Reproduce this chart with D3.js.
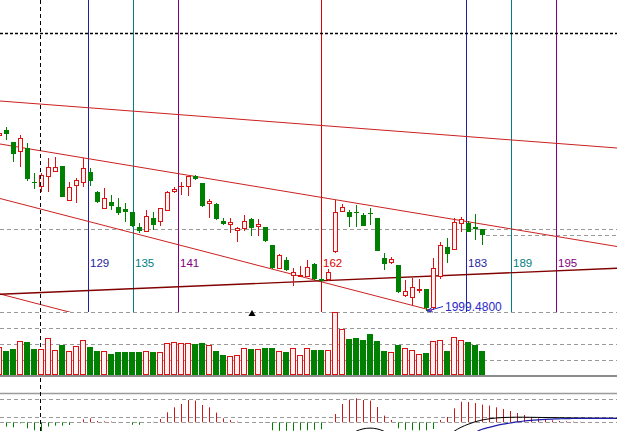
<!DOCTYPE html>
<html><head><meta charset="utf-8">
<script src="https://cdn.jsdelivr.net/npm/d3@7"></script>
<style>body{margin:0;background:#fff;}svg{display:block;}</style>
</head><body>
<svg id="c" width="617" height="431"></svg>
<script>
// ---------- DATA ----------
const firstIndex = -1; // bar index of first candle
const opens  = [2174.5,2180,2168,2157.7,2161.7,2128.3,2123.3,2132.7,2138.3,2144,2109.3,2124,2126.7,2138.3,2118.3,2101,2108.3,2103.3,2101,2098.3,2083.3,2078.3,2092.3,2087.7,2099.3,2117.7,2123.3,2122.7,2134.3,2126.7,2105.7,2106,2089,2085.3,2078.7,2080.7,2090.7,2083,2082.7,2065,2041,2050,2034,2033.3,2032.7,2046,2031,2030,2057.7,2098.3,2097.7,2098.3,2095,2097.3,2091.7,2051.7,2046.7,2045,2014.3,2011.7,2019.3,2020.7,2001.7,2032.7,2063.3,2060,2086,2087.3,2083.3,2080.7];
const highs  = [2177.5,2183.3,2168,2175,2166.7,2136.7,2137,2151.7,2152.7,2144,2128.3,2131.7,2151.7,2141.7,2119,2121.7,2115,2111.7,2106.7,2098.3,2086.7,2100,2098.3,2101.7,2119.3,2123.3,2128.3,2134.3,2135,2126.7,2111,2106.7,2091.7,2091.7,2083.3,2095,2091.7,2090.7,2083,2065,2056,2053.3,2041.7,2044,2050,2046.7,2032,2040.7,2110,2106,2100,2105,2097.3,2101.7,2091.7,2056.7,2053.3,2045,2030,2031.7,2030.7,2021,2051.7,2068.3,2071.7,2091.7,2093.3,2089,2096,2081];
const lows   = [2174,2170,2148.3,2143.3,2129.3,2120.7,2118.3,2117.7,2138.3,2112.7,2109.3,2106.7,2123.3,2124,2107,2101,2100,2095,2088.3,2083.3,2076.7,2078.3,2080,2084.3,2099,2116.7,2115,2114.3,2130,2103.3,2092,2090,2085,2077.3,2068.3,2079.3,2074.3,2074.3,2068.3,2040.7,2041,2039.3,2024.3,2032.7,2032.7,2030,2028,2029.3,2057,2098.3,2082.7,2083.3,2084.3,2085,2059.3,2040,2046,2016.7,2013.3,2005,2016.7,1999.48,2000,2030.7,2047.3,2060,2078.3,2078.3,2070,2065];
const closes = [2177,2175.7,2155.7,2171.7,2131,2126.7,2135,2142.7,2142.7,2113.3,2123.3,2130,2141.7,2129.3,2108.3,2111.7,2104.3,2096.7,2098.3,2084.3,2079,2094,2085,2101.7,2118.3,2121,2124.5,2134.3,2130.7,2104.3,2109.3,2091,2086,2088,2081.7,2089.3,2082.3,2086,2069.3,2042.3,2055,2040,2038.3,2035,2043.3,2030.7,2029,2038.3,2097.7,2102.7,2092.7,2096.7,2084.3,2096,2059.3,2046,2050.7,2018.3,2019,2023.5,2020.7,2001.7,2041.7,2065,2056,2087.7,2091,2078.3,2080.7,2075];
const volumes = [28.7,25.3,27,35,34,27.3,27,38,26,31.3,25.3,30,35.7,29,25.3,25,22.3,24,24,24,24,25,24,24,32.7,33.7,33,32.7,31.7,33,31.3,25.3,21,20,21,28,27,27,28.3,28.3,25,24.3,28,21,28,26.3,26.3,26,63.7,47,37.3,38,36.3,42,35,25,23.7,31.3,28,26,21.7,23,35,36,25,39,36,34,31.3,25];
const macdHist = [-3,-4.3,-5,-1,-6,-8,-8.7,-4.3,-3.3,-3.3,-2.7,0,3,4,1.3,1,0.7,0.3,0,-2.5,-2.5,0,0.5,3.3,10,15,18.3,22.3,21.7,17.3,15,9.7,4,2.3,0.7,0,0,0,-0.5,-8,-8.5,-8.5,-8.5,-8,-8,-7.5,-7,0.5,8.3,18.3,22.7,24,22.3,21.7,15.3,6.7,2.3,-6,-7.5,-8,-8,-8,-6.7,2.3,5.3,14,20.5,20.3,19.2,17.7,16.7,15,13.3,11.3,9.3,7.3,5.3,4,2.7,2,1.3,1,0.7,0.5];
const difStart = 49;
const difValues = [-14,-9,-6.6,-5.8,-6.6,-9,-14,null,null,null,null,null,null,null,-14,-9,-5,-2,0.5,2.3,3.5,4.3,4.8,5,5.1,5.1,5,4.9,4.8,4.7,4.6,4.5,4.4,4.3,4.2,4.2,4.1,4.1,4.0,4.0];
const deaStart = 66;
const deaValues = [-13,-10,-7,-5,-3.3,-1.8,-0.7,0.4,1.3,2,2.5,2.9,3.2,3.5,3.7,3.8,3.9,4.0,4.0,4.0,4.0,4.0,4.0];
const markLabels = ["129","135","141","162","183","189","195"];
const markIndex  = [11.71,18.14,24.57,45,65.71,72.14,78.57];
const trendStart = [[-0.857,2209],[-0.857,2166],[-0.857,2111.5],[-0.857,2016],[-0.857,2015.7]];
const trendEnd   = [[87.29,2162],[87.29,2063.5],[60.86,1999.5],[12,1992.6],[87.29,2041.7]];
const priceGrid = [2080.7];
const volumeGrid = [16,32,48,64];
const macdGrid = [0,5.6,23];
const crossIndex = 4.86, crossPrice = 2277;
const lowLabel = "1999.4800";
const arrowIndex = 35;

// ---------- STYLE ----------
const RED = "#dd1111", GREEN = "#008000", HOLLOW = "#fff2f2";
const markColor = {"129":"#1f1f9f","135":"#008080","141":"#800080","162":"#e00000","183":"#1f1f9f","189":"#008080","195":"#800080"};
const trendColor = ["#cc2020","#cc2020","#cc2020","#cc2020","#800000"];

// ---------- SCALES ----------
const W = 617, H = 431;
const x  = d3.scaleLinear().domain([0, 87]).range([6, 615]);
const yP = d3.scaleLinear().domain([1998, 2310]).range([312, 0]);
const yV = d3.scaleLinear().domain([0, 64]).range([376, 312]);
const yM = d3.scaleLinear().domain([0, 23]).range([422.3, 399.3]);

const svg = d3.select("#c");
const defs = svg.append("defs");
defs.append("clipPath").attr("id","clipP").append("rect").attr("x",0).attr("y",0).attr("width",W).attr("height",312);
defs.append("clipPath").attr("id","clipM").append("rect").attr("x",0).attr("y",393).attr("width",W).attr("height",38);

const bars = opens.map((o,i)=>({k:firstIndex+i,o:o,h:highs[i],l:lows[i],c:closes[i],v:volumes[i],up:closes[i]>=o}));
const cxOf = k => Math.round(x(k));

// ---------- GRID ----------
const grid = svg.append("g").attr("stroke","#9a9a9a").attr("stroke-dasharray","4,3").attr("stroke-width",1);
grid.selectAll(".pg").data(priceGrid).join("line").attr("x1",0).attr("x2",W)
  .attr("y1",d=>Math.round(yP(d))+0.5).attr("y2",d=>Math.round(yP(d))+0.5);
grid.selectAll(".vg").data(volumeGrid).join("line").attr("class","vg").attr("x1",0).attr("x2",W)
  .attr("y1",d=>Math.round(yV(d))+0.5).attr("y2",d=>Math.round(yV(d))+0.5);
grid.selectAll(".mg").data(macdGrid).join("line").attr("class","mg").attr("x1",0).attr("x2",W)
  .attr("y1",d=>Math.round(yM(d))+0.5).attr("y2",d=>Math.round(yM(d))+0.5);
// last price line
const last = bars[bars.length-1];
svg.append("line").attr("x1",cxOf(last.k)+4).attr("x2",W)
  .attr("y1",Math.round(yP(last.c))+0.5).attr("y2",Math.round(yP(last.c))+0.5)
  .attr("stroke","#9a9a9a").attr("stroke-dasharray","4,3");

// panel separators
svg.append("line").attr("x1",0).attr("x2",W).attr("y1",yV(0)).attr("y2",yV(0)).attr("stroke","#8c8c8c").attr("stroke-width",2);
svg.append("line").attr("x1",0).attr("x2",W).attr("y1",393.5).attr("y2",393.5).attr("stroke","#9a9a9a").attr("stroke-width",1.5);

// ---------- PRICE PANEL ----------
const pg = svg.append("g").attr("clip-path","url(#clipP)");
// vertical time lines
pg.selectAll(".vl").data(markIndex).join("line").attr("class","vl")
  .attr("x1",d=>Math.round(x(d))+0.5).attr("x2",d=>Math.round(x(d))+0.5)
  .attr("y1",0).attr("y2",312)
  .attr("stroke",(d,i)=>markColor[markLabels[i]]).attr("stroke-width",1);
// trend lines
pg.selectAll(".tl").data(trendStart).join("line").attr("class","tl")
  .attr("x1",d=>x(d[0])).attr("y1",d=>yP(d[1]))
  .attr("x2",(d,i)=>x(trendEnd[i][0])).attr("y2",(d,i)=>yP(trendEnd[i][1]))
  .attr("stroke",(d,i)=>trendColor[i]).attr("stroke-width",(d,i)=>i===4?1.4:1);

// candles
const cg = pg.append("g");
bars.forEach(d=>{
  const cx = cxOf(d.k);
  const yt = Math.round(yP(Math.max(d.o,d.c))), yb = Math.round(yP(Math.min(d.o,d.c)));
  const yh = Math.round(yP(d.h)), yl = Math.round(yP(d.l));
  if (d.up) {
    if (yh < yt) cg.append("line").attr("x1",cx+0.5).attr("x2",cx+0.5).attr("y1",yh).attr("y2",yt).attr("stroke",RED);
    if (yl > yb) cg.append("line").attr("x1",cx+0.5).attr("x2",cx+0.5).attr("y1",yb).attr("y2",yl).attr("stroke",RED);
    if (yb - yt <= 1) {
      cg.append("rect").attr("x",cx-2).attr("y",yt).attr("width",5).attr("height",Math.max(1,yb-yt)+0).attr("fill",RED);
    } else {
      cg.append("rect").attr("x",cx-1.5).attr("y",yt+0.5).attr("width",4).attr("height",yb-yt-1)
        .attr("fill",HOLLOW).attr("stroke",RED).attr("stroke-width",1);
    }
  } else {
    cg.append("line").attr("x1",cx+0.5).attr("x2",cx+0.5).attr("y1",yh).attr("y2",Math.max(yl,yh+1)).attr("stroke",GREEN);
    cg.append("rect").attr("x",cx-2).attr("y",yt).attr("width",5).attr("height",Math.max(1,yb-yt)).attr("fill",GREEN);
  }
});

// crosshair
svg.append("line").attr("x1",0).attr("x2",W).attr("y1",Math.round(yP(crossPrice))+0.5).attr("y2",Math.round(yP(crossPrice))+0.5)
  .attr("stroke","#000").attr("stroke-width",1.6).attr("stroke-dasharray","3,2");
svg.append("line").attr("x1",Math.round(x(crossIndex))+0.5).attr("x2",Math.round(x(crossIndex))+0.5).attr("y1",0).attr("y2",H)
  .attr("stroke","#000").attr("stroke-width",1).attr("stroke-dasharray","4,3");

// mark labels
svg.selectAll(".ml").data(markIndex).join("text").attr("class","ml")
  .attr("x",d=>Math.round(x(d))+2).attr("y",267)
  .attr("fill",(d,i)=>markColor[markLabels[i]])
  .attr("font-family","Liberation Sans, Arial, sans-serif").attr("font-size",11.5)
  .text((d,i)=>markLabels[i]);

// low label
const lowI = d3.minIndex(lows);
const lowX = x(bars[lowI].k), lowY = yP(lows[lowI]);
svg.append("line").attr("x1",lowX+1).attr("y1",lowY+0.5).attr("x2",lowX+17).attr("y2",lowY-4)
  .attr("stroke","#2a2ac8").attr("stroke-width",1);
svg.append("path").attr("d",`M${lowX+6},${lowY-3} L${lowX+1},${lowY+0.5} L${lowX+7},${lowY+1.5}`)
  .attr("fill","none").attr("stroke","#2a2ac8").attr("stroke-width",1);
svg.append("text").attr("x",lowX+19).attr("y",lowY)
  .attr("fill","#2a2ac8").attr("font-family","Liberation Sans, Arial, sans-serif").attr("font-size",12)
  .text(lowLabel);

// arrow marker
svg.append("path").attr("d",d3.symbol(d3.symbolTriangle,22)())
  .attr("transform",`translate(${cxOf(arrowIndex)+1},${yV(64)+2})`).attr("fill","#000");

// ---------- VOLUME ----------
const vg = svg.append("g");
bars.forEach(d=>{
  const cx = cxOf(d.k);
  const vt = Math.round(yV(d.v)), vb = yV(0) - 1;
  if (d.up) {
    vg.append("rect").attr("x",cx-2.5).attr("y",vt+0.5).attr("width",5).attr("height",vb-vt-1)
      .attr("fill",HOLLOW).attr("stroke",RED).attr("stroke-width",1);
  } else {
    vg.append("rect").attr("x",cx-3).attr("y",vt).attr("width",6).attr("height",vb-vt).attr("fill",GREEN);
  }
});

// ---------- MACD ----------
const mg = svg.append("g").attr("clip-path","url(#clipM)");
mg.selectAll(".mh").data(macdHist).join("line").attr("class","mh")
  .attr("x1",(d,i)=>cxOf(firstIndex+i)+0.5).attr("x2",(d,i)=>cxOf(firstIndex+i)+0.5)
  .attr("y1",yM(0)).attr("y2",d=>yM(d))
  .attr("stroke",d=>d>=0?"#cc1818":GREEN).attr("stroke-width",1);
const mline = d3.line().defined(d=>d[1]!==null).x(d=>x(d[0])).y(d=>yM(d[1])).curve(d3.curveMonotoneX);
mg.append("path").attr("d",mline(difValues.map((v,i)=>[difStart+i,v]))).attr("fill","none").attr("stroke","#000").attr("stroke-width",1);
mg.append("path").attr("d",mline(deaValues.map((v,i)=>[deaStart+i,v]))).attr("fill","none").attr("stroke","#1c1ca8").attr("stroke-width",1.2);
</script>
</body></html>
